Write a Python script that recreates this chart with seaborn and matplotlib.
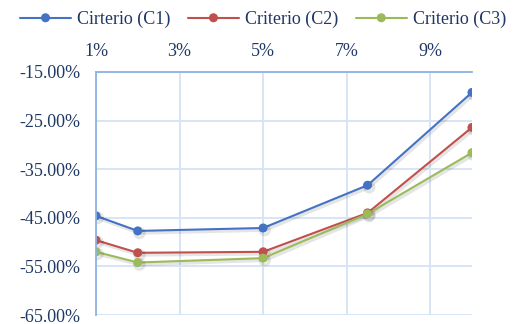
import matplotlib
matplotlib.use("Agg")
import matplotlib.pyplot as plt
import matplotlib.patheffects as pe
from matplotlib.ticker import FuncFormatter, FixedLocator
import seaborn as sns
import pandas as pd

# Percentage levels on the horizontal axis
levels = [1, 2, 5, 7.5, 10]
series_names = ["Cirterio (C1)", "Criterio (C2)", "Criterio (C3)"]
c1 = [-44.6, -47.7, -47.1, -38.3, -19.2]
c2 = [-49.6, -52.2, -52.0, -44.0, -26.4]
c3 = [-52.0, -54.2, -53.3, -44.2, -31.6]
x_ticks = [1, 3, 5, 7, 9]
y_ticks = [-15, -25, -35, -45, -55, -65]

df = pd.DataFrame({
    "nivel": levels * 3,
    "valor": c1 + c2 + c3,
    "serie": [series_names[0]] * 5 + [series_names[1]] * 5 + [series_names[2]] * 5,
})

sns.set_theme(style="white")
plt.rcParams["font.family"] = ["Liberation Serif", "DejaVu Serif"]
text_color = "#1F3864"

fig = plt.figure(figsize=(5.15, 3.24), dpi=100)
ax = fig.add_axes([96 / 515, 1 - 315 / 324, (472 - 96) / 515, (315 - 72) / 324])

palette = ["#4472C4", "#C0504D", "#9BBB59"]
sns.lineplot(data=df, x="nivel", y="valor", hue="serie", palette=palette,
             marker="o", markersize=6.5, markeredgewidth=0, linewidth=1.5,
             ax=ax, legend=True)

shadow = [pe.SimpleLineShadow(offset=(1.2, -1.5), shadow_color="black", alpha=0.10, linewidth=2.5),
          pe.Normal()]
for line in ax.get_lines():
    line.set_path_effects(shadow)

ax.set_xlim(1, 10)
ax.set_ylim(-65, -15)
ax.xaxis.set_major_locator(FixedLocator(x_ticks))
ax.yaxis.set_major_locator(FixedLocator(y_ticks))
ax.xaxis.set_major_formatter(FuncFormatter(lambda v, p: f"{v:.0f}%"))
ax.yaxis.set_major_formatter(FuncFormatter(lambda v, p: f"{v:.2f}%"))
ax.xaxis.tick_top()
ax.tick_params(axis="x", labelsize=13, colors=text_color, length=0, pad=8.5)
ax.tick_params(axis="y", labelsize=13, colors=text_color, length=0, pad=11.5)
ax.set_xlabel("")
ax.set_ylabel("")

ax.grid(True, color="#D6E3F3", linewidth=1.3)
ax.set_axisbelow(True)
for side in ["right", "bottom"]:
    ax.spines[side].set_visible(False)
for side in ["left", "top"]:
    ax.spines[side].set_visible(True)
    ax.spines[side].set_color("#8DB3E2")
    ax.spines[side].set_linewidth(1.3)

handles, labels = ax.get_legend_handles_labels()
leg = ax.legend(handles, labels, loc="upper center", bbox_to_anchor=(263 / 515, 1.0),
                bbox_transform=fig.transFigure, ncol=3, frameon=False,
                fontsize=13, labelcolor=text_color, handlelength=2.8, handletextpad=0.33,
                columnspacing=1.0, borderaxespad=0.2)
for h in leg.legend_handles:
    h.set_path_effects([pe.Normal()])

fig.savefig("out.png", dpi=100)
